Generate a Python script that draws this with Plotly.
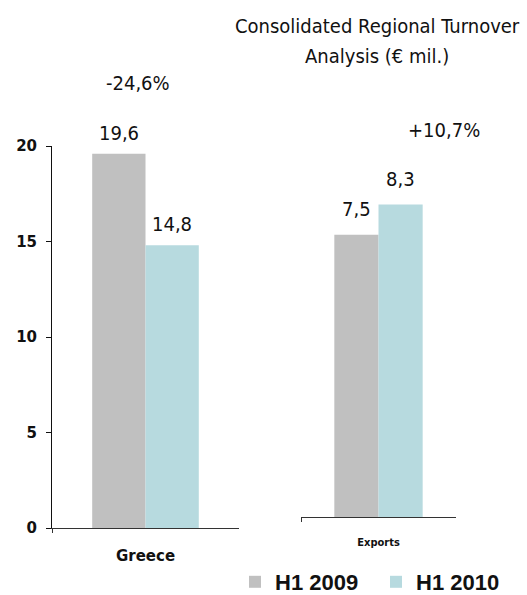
import plotly.graph_objects as go

# ---- data ----
series = ["H1 2009", "H1 2010"]
colors = ["#C0C0C0", "#B7DADF"]
greece_cat = ["Greece"]
exports_cat = ["Exports"]
greece_vals = [19.6, 14.8]
exports_vals = [7.5, 8.3]
change_labels = ["-24,6%", "+10,7%"]
title_lines = ["Consolidated Regional Turnover", "Analysis (€ mil.)"]
y_ticks = [0, 5, 10, 15, 20]

W, H = 527, 595
NARROW = "Liberation Sans Narrow, Arial Narrow, DejaVu Sans Condensed, sans-serif"
BARGAP = 0.43

fig = go.Figure()
for i, s in enumerate(series):
    fig.add_trace(go.Bar(x=greece_cat, y=[greece_vals[i]], name=s, marker_color=colors[i],
                         marker_line_width=0, legendgroup=s, showlegend=True,
                         xaxis="x", yaxis="y"))
    fig.add_trace(go.Bar(x=exports_cat, y=[exports_vals[i]], name=s, marker_color=colors[i],
                         marker_line_width=0, legendgroup=s, showlegend=False,
                         xaxis="x2", yaxis="y2"))

annotations = []
off = (1 - BARGAP) / 4
for i in range(2):
    sign = -1 if i == 0 else 1
    annotations.append(dict(x=sign * off, y=greece_vals[i], xref="x", yref="y",
                            text=f"{greece_vals[i]:.1f}".replace(".", ","),
                            showarrow=False, xanchor="center", yanchor="bottom", yshift=7,
                            font=dict(family=NARROW, size=20, color="#111")))
    annotations.append(dict(x=sign * off, y=exports_vals[i], xref="x2", yref="y2",
                            text=f"{exports_vals[i]:.1f}".replace(".", ","),
                            showarrow=False, xanchor="center", yanchor="bottom", yshift=12,
                            font=dict(family=NARROW, size=20, color="#111")))

annotations.append(dict(x=138 / W, y=1 - 83 / H, xref="paper", yref="paper",
                        text=change_labels[0], showarrow=False,
                        xanchor="center", yanchor="middle",
                        font=dict(family=NARROW, size=20, color="#111")))
annotations.append(dict(x=444 / W, y=1 - 130 / H, xref="paper", yref="paper",
                        text=change_labels[1], showarrow=False,
                        xanchor="center", yanchor="middle",
                        font=dict(family=NARROW, size=20, color="#111")))
for k, line in enumerate(title_lines):
    annotations.append(dict(x=377 / W, y=1 - (26 + 30 * k) / H, xref="paper", yref="paper",
                            text=line, showarrow=False,
                            xanchor="center", yanchor="middle",
                            font=dict(family=NARROW, size=20, color="#111")))

fig.update_layout(
    width=W, height=H, autosize=False,
    margin=dict(l=0, r=0, t=0, b=0, autoexpand=False),
    plot_bgcolor="white", paper_bgcolor="white",
    barmode="group", bargap=BARGAP, bargroupgap=0,
    showlegend=True,
    legend=dict(orientation="h", x=(275 - 40) / W, xanchor="left",
                y=1 - 582 / H, yanchor="middle",
                font=dict(family="Liberation Sans, Arial, sans-serif", size=22,
                          color="#111", weight="bold"),
                traceorder="normal", itemwidth=30, entrywidth=96),
    xaxis=dict(domain=[52 / W, 239 / W], anchor="y", type="category",
               showline=True, linecolor="#333", linewidth=1,
               ticks="outside", tickson="boundaries", ticklen=4, tickcolor="#333",
               ticklabelstandoff=14,
               tickfont=dict(family="DejaVu Sans", size=15, color="#111", weight="bold"),
               showgrid=False, zeroline=False, fixedrange=True),
    yaxis=dict(domain=[1 - 528 / H, 1 - 146 / H], anchor="x", range=[0, 20],
               tickvals=y_ticks, showline=True, linecolor="#111", linewidth=1,
               ticks="outside", ticklen=5, tickcolor="#111",
               ticklabelstandoff=6,
               tickfont=dict(family="DejaVu Sans", size=15, color="#111", weight="bold"),
               showgrid=False, zeroline=False, fixedrange=True),
    xaxis2=dict(domain=[301 / W, 456 / W], anchor="y2", type="category",
                showline=True, linecolor="#333", linewidth=1,
                ticks="outside", tickson="boundaries", ticklen=4, tickcolor="#333",
                ticklabelstandoff=15,
                tickfont=dict(family=NARROW, size=11, color="#111", weight="bold"),
                showgrid=False, zeroline=False, fixedrange=True),
    yaxis2=dict(domain=[1 - 517 / H, 1 - 140.5 / H], anchor="x2", range=[0, 10],
                visible=False, fixedrange=True),
    annotations=annotations,
)

fig.write_html("out.html")
